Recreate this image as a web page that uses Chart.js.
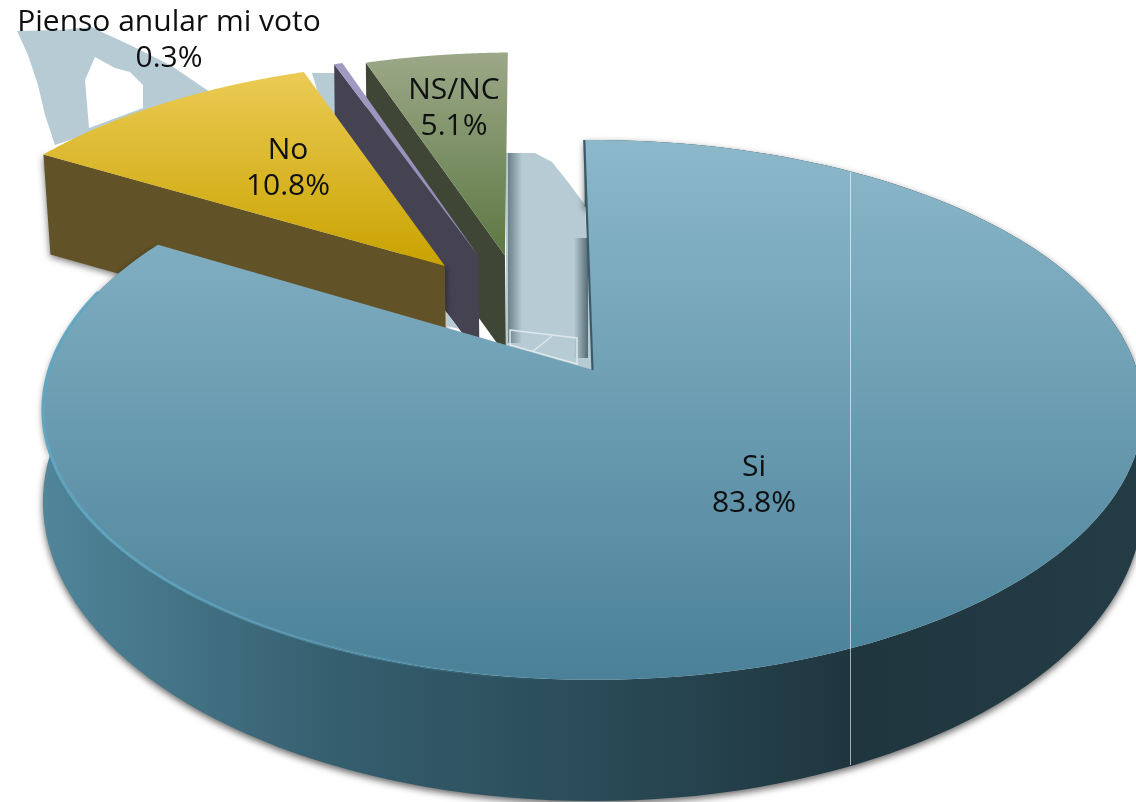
<!DOCTYPE html>
<html><head><meta charset="utf-8">
<style>html,body{margin:0;padding:0;background:#fff}canvas{display:block}</style>
<script src="https://cdn.jsdelivr.net/npm/chart.js@4"></script>
</head><body><canvas id="c" width="1136" height="802"></canvas>
<script>
const categories = ["Si", "No", "Pienso anular mi voto", "NS/NC"];
const values = [83.8, 10.8, 0.3, 5.1];
const valueLabels = ["83.8%", "10.8%", "0.3%", "5.1%"];
const topStops = [["#8cb8ca", "#4a8199"], ["#ebcb55", "#c9a300"], ["#a19bc4", "#8f89b8"], ["#9ca888", "#5c7842"]];
const wallColors = [null, "#625228", "#454252", "#3f4636"];
const explodeU = [0, -0.289, -0.225, -0.173];
const explodeV = [0, -0.418, -0.461, -0.463];
const labelX = [754, 288, 169, 454];
const labelY = [467, 150, 22, 90];

const VIEW = {cx: 593, cy: 370, a: 544, b: 264, k: 0.148};
function proj(u, v) {
  const d = 1 - VIEW.k * v;
  return [VIEW.cx + VIEW.a * u / d, VIEW.cy + VIEW.b * v / d];
}
function poly(ctx, pts) {
  ctx.beginPath();
  pts.forEach((p, i) => i ? ctx.lineTo(p[0], p[1]) : ctx.moveTo(p[0], p[1]));
  ctx.closePath();
}
function arcPts(el, du, dv, from, to) {
  const pts = [], R = el.outerRadius, n = 160;
  for (let i = 0; i <= n; i++) {
    const t = from + (to - from) * i / n;
    const u = Math.cos(t) * R / R + du, v = Math.sin(t) * R / R + dv;
    pts.push({p: proj(u, v), v: v});
  }
  return pts;
}
function drawBackdrop(ctx) {
  const map = "#b6cbd3";
  ctx.fillStyle = map;
  poly(ctx, [[17,31],[28,55],[38,85],[45,115],[55,145],[210,92],[170,65],[130,45],[106,34],[92,27],[60,30]]);
  ctx.fill();
  ctx.fillStyle = "#fff";
  poly(ctx, [[89,128],[85,80],[95,57],[115,68],[130,72],[143,85],[143,108]]);
  ctx.fill();
  ctx.fillStyle = map;
  poly(ctx, [[312,73],[340,73],[340,125],[320,100]]);
  ctx.fill();
  poly(ctx, [[506,153],[535,153],[552,162],[568,182],[585,205],[593,372],[506,345]]);
  ctx.fill();
  let g = ctx.createLinearGradient(508, 0, 522, 0);
  g.addColorStop(0, "#6c808a"); g.addColorStop(1, "rgba(108,128,138,0)");
  ctx.fillStyle = g; ctx.fillRect(508, 153, 14, 190);
  g = ctx.createLinearGradient(574, 0, 588, 0);
  g.addColorStop(0, "rgba(90,110,120,0)"); g.addColorStop(1, "#566a74");
  ctx.fillStyle = g; ctx.fillRect(574, 238, 14, 120);
  ctx.strokeStyle = "#dfe7ea"; ctx.lineWidth = 1.5;
  poly(ctx, [[510,330],[577,338],[577,364],[510,345]]);
  ctx.stroke();
  ctx.beginPath(); ctx.moveTo(532,352); ctx.lineTo(552,336); ctx.stroke();
}
const pie3d = {
  id: "pie3d",
  beforeDatasetDraw(chart) {
    const ctx = chart.ctx, arcs = chart.getDatasetMeta(0).data;
    ctx.save();
    drawBackdrop(ctx);
    // exploded slices, far to near
    [3, 2, 1].forEach(i => {
      const el = arcs[i], du = explodeU[i], dv = explodeV[i];
      const rim = arcPts(el, du, dv, el.startAngle, el.endAngle);
      const apex = proj(du, dv), c0 = rim[0].p, depth = 100;
      ctx.fillStyle = wallColors[i];
      if (i === 1) { ctx.save(); ctx.shadowColor = "rgba(0,0,0,.55)"; ctx.shadowBlur = 7; ctx.shadowOffsetY = 2; }
      poly(ctx, [c0, apex, [apex[0] + 1, apex[1] + depth], [c0[0] + (i === 1 ? 7 : 1), c0[1] + depth]]);
      ctx.fill();
      if (i === 1) ctx.restore();
      const ys = rim.map(r => r.p[1]);
      const g = ctx.createLinearGradient(0, Math.min(...ys), 0, apex[1]);
      g.addColorStop(0, topStops[i][0]); g.addColorStop(1, topStops[i][1]);
      ctx.fillStyle = g;
      poly(ctx, [apex, ...rim.map(r => r.p)]);
      ctx.fill();
    });
    ctx.fillStyle = "#b6cbd3";
    poly(ctx, [[447,313],[447,326],[459,329]]);
    ctx.fill();
    // main slice
    const el = arcs[0];
    const rim = arcPts(el, 0, 0, el.startAngle, el.endAngle);
    const bottom = rim.map(r => {
      const d = 1 - VIEW.k * r.v;
      return [r.p[0], r.p[1] + 88 / (d * d)];
    });
    const wall = ctx.createLinearGradient(43, 0, 1136, 0);
    wall.addColorStop(0, "#50859a");
    wall.addColorStop(0.27, "#355e6e");
    wall.addColorStop(0.5, "#2a4b58");
    wall.addColorStop(0.74, "#1f363f");
    wall.addColorStop(1, "#243c45");
    ctx.save();
    ctx.shadowColor = "rgba(0,0,0,.6)"; ctx.shadowBlur = 7; ctx.shadowOffsetY = 3;
    ctx.fillStyle = wall;
    poly(ctx, [...rim.map(r => r.p), ...bottom.reverse()]);
    ctx.fill();
    ctx.restore();
    const apex = proj(0, 0);
    const face = ctx.createLinearGradient(0, 140, 0, 680);
    face.addColorStop(0, topStops[0][0]); face.addColorStop(1, topStops[0][1]);
    ctx.fillStyle = face;
    poly(ctx, [apex, ...rim.map(r => r.p)]);
    ctx.fill();
    // cut edge and rim light
    ctx.strokeStyle = "#3b5a68"; ctx.lineWidth = 2.2;
    ctx.beginPath(); ctx.moveTo(rim[0].p[0] - 0.5, rim[0].p[1]); ctx.lineTo(apex[0] - 0.5, apex[1]); ctx.stroke();
    const light = ctx.createLinearGradient(40, 0, 560, 0);
    light.addColorStop(0, "#60a6c1"); light.addColorStop(1, "rgba(96,166,193,0)");
    ctx.strokeStyle = light; ctx.lineWidth = 3;
    ctx.beginPath();
    arcPts(el, 0, 0, Math.PI * 1.1, Math.PI * 0.52).forEach((r, i) => i ? ctx.lineTo(r.p[0], r.p[1]) : ctx.moveTo(r.p[0], r.p[1]));
    ctx.stroke();
    // seam in the original artwork
    ctx.strokeStyle = "rgba(255,255,255,.6)"; ctx.lineWidth = 1;
    ctx.beginPath(); ctx.moveTo(850.5, 172); ctx.lineTo(850.5, 765); ctx.stroke();
    // labels
    ctx.fillStyle = "#0d0f10";
    ctx.textAlign = "center"; ctx.textBaseline = "middle";
    ctx.font = '400 30px "Open Sans"';
    categories.forEach((name, i) => {
      ctx.fillText(name, labelX[i], labelY[i]);
      ctx.fillText(valueLabels[i], labelX[i], labelY[i] + 36);
    });
    ctx.restore();
    return false;
  }
};
new Chart(document.getElementById("c"), {
  type: "pie",
  data: {labels: categories, datasets: [{data: values, backgroundColor: topStops.map(s => s[0])}]},
  options: {
    responsive: false, animation: false, rotation: -1,
    layout: {padding: 0},
    plugins: {legend: {display: false}, tooltip: {enabled: false}}
  },
  plugins: [pie3d]
});
</script></body></html>
